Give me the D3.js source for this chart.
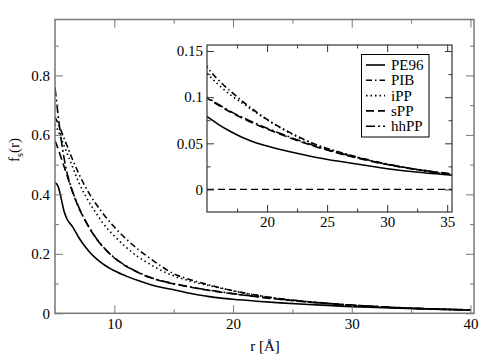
<!DOCTYPE html>
<html><head><meta charset="utf-8">
<script src="https://cdn.jsdelivr.net/npm/d3@7"></script>
</head>
<body style="margin:0">
<svg id="c" width="491" height="363" style="display:block;background:#fff"></svg>
<script>
// ---- data ----
const r = [5, 5.25, 5.5, 5.75, 6, 6.5, 7, 7.5, 8, 8.5, 9, 10, 11, 12, 13, 14, 15, 16, 17, 18, 19, 20, 22, 24, 26, 28, 30, 32, 34, 36, 38, 40];
const PE96 = [0.44, 0.428, 0.39, 0.345, 0.318, 0.29, 0.255, 0.226, 0.202, 0.183, 0.167, 0.143, 0.125, 0.11, 0.097, 0.087, 0.079, 0.07, 0.0625, 0.056, 0.051, 0.047, 0.0405, 0.035, 0.0305, 0.0265, 0.0225, 0.0195, 0.017, 0.0148, 0.0128, 0.011];
const PIB  = [0.66, 0.64, 0.615, 0.59, 0.565, 0.515, 0.47, 0.43, 0.395, 0.365, 0.338, 0.29, 0.25, 0.215, 0.185, 0.157, 0.133, 0.118, 0.106, 0.095, 0.085, 0.076, 0.061, 0.049, 0.0405, 0.0335, 0.0275, 0.0227, 0.0185, 0.0153, 0.0128, 0.0107];
const iPP  = [0.635, 0.615, 0.59, 0.565, 0.54, 0.49, 0.44, 0.40, 0.365, 0.335, 0.305, 0.26, 0.222, 0.19, 0.165, 0.143, 0.126, 0.113, 0.102, 0.093, 0.084, 0.0755, 0.0605, 0.0488, 0.0403, 0.0333, 0.0273, 0.0225, 0.0183, 0.0152, 0.0127, 0.0106];
const sPP  = [0.58, 0.555, 0.525, 0.495, 0.465, 0.405, 0.355, 0.315, 0.28, 0.25, 0.225, 0.186, 0.158, 0.137, 0.12, 0.108, 0.099, 0.091, 0.0835, 0.077, 0.071, 0.0655, 0.0555, 0.0465, 0.039, 0.0325, 0.027, 0.0225, 0.0188, 0.0158, 0.0135, 0.0115];
const hhPP = [0.76, 0.67, 0.59, 0.525, 0.475, 0.408, 0.357, 0.316, 0.281, 0.251, 0.226, 0.187, 0.159, 0.138, 0.121, 0.109, 0.0998, 0.0918, 0.0843, 0.0778, 0.0718, 0.0663, 0.0563, 0.0472, 0.0396, 0.033, 0.0274, 0.0228, 0.019, 0.016, 0.0137, 0.0117];
const seriesNames = ["PE96", "PIB", "iPP", "sPP", "hhPP"];
const xTicksMain = [10, 20, 30, 40];
const yTicksMain = [0, 0.2, 0.4, 0.6, 0.8];
const xTicksInset = [20, 25, 30, 35];
const yTicksInset = [0, 0.05, 0.1, 0.15];

const seriesData = {PE96, PIB, iPP, sPP, hhPP};
const dashes = {PE96: null, PIB: "6,3,1.5,3", iPP: "1.5,3", sPP: "8,4", hhPP: "9,3,2,3"};
const FONT = '"Liberation Serif"';

const svg = d3.select("#c");
const fmt = d => String(+d.toFixed(3));

function drawPanel(g, x, y, opt) {
  const [x0, x1] = x.range(), [y0, y1] = y.range();
  const id = opt.id;
  g.append("clipPath").attr("id", id).append("rect")
    .attr("x", x0).attr("y", y1).attr("width", x1 - x0).attr("height", y0 - y1);
  if (opt.fill) g.append("rect").attr("x", x0).attr("y", y1).attr("width", x1 - x0).attr("height", y0 - y1).attr("fill", "#fff");
  const plot = g.append("g").attr("clip-path", `url(#${id})`);
  if (opt.zeroLine) {
    plot.append("line").attr("x1", x0).attr("x2", x1).attr("y1", y(0)).attr("y2", y(0))
      .attr("stroke", "#000").attr("stroke-width", 1.3).attr("stroke-dasharray", "7,4");
  }
  const line = d3.line().x((d, i) => x(r[i])).y(d => y(d)).curve(d3.curveMonotoneX);
  seriesNames.forEach(n => {
    plot.append("path").datum(seriesData[n]).attr("d", line).attr("fill", "none")
      .attr("stroke", "#000").attr("stroke-width", 1.6)
      .attr("stroke-dasharray", dashes[n]);
  });
  const col = opt.axisColor;
  const mk = (axisFn, scale, ticks, size, labels) =>
    axisFn(scale).tickValues(ticks).tickSizeInner(size).tickSizeOuter(0)
      .tickPadding(opt.pad).tickFormat(labels ? fmt : "");
  const ax = (axisFn, scale, major, minor, tr, labels) => {
    const gm = g.append("g").attr("transform", tr).call(mk(axisFn, scale, minor, -opt.minor, false));
    const gM = g.append("g").attr("transform", tr).call(mk(axisFn, scale, major, -opt.major, labels));
    [gm, gM].forEach(s => {
      s.attr("font-family", null).attr("font-size", null);
      s.select(".domain").remove();
      s.selectAll("line").attr("stroke", col).attr("stroke-width", 1);
      s.selectAll("text").attr("fill", "#000").style("font-size", "15px").style("font-family", FONT);
    });
  };
  ax(d3.axisBottom, x, opt.xMajor, opt.xMinor, `translate(0,${y0})`, true);
  ax(d3.axisTop, x, opt.xMajor, opt.xMinor, `translate(0,${y1})`, false);
  ax(d3.axisLeft, y, opt.yMajor, opt.yMinor, `translate(${x0},0)`, true);
  ax(d3.axisRight, y, opt.yMajor, opt.yMinor, `translate(${x1},0)`, false);
  g.append("rect").attr("x", x0).attr("y", y1).attr("width", x1 - x0).attr("height", y0 - y1)
    .attr("fill", "none").attr("stroke", col).attr("stroke-width", opt.frameW);
}

// main panel
const xM = d3.scaleLinear().domain([5, 40.3]).range([55, 474]);
const yM = d3.scaleLinear().domain([0, 0.988]).range([313.3, 19.5]);
drawPanel(svg.append("g"), xM, yM, {
  id: "cm", axisColor: "#777", frameW: 1.5, major: 8, minor: 4, pad: 5,
  xMajor: xTicksMain, xMinor: [15, 25, 35],
  yMajor: yTicksMain, yMinor: [0.1, 0.3, 0.5, 0.7, 0.9]
});

// inset panel
const xI = d3.scaleLinear().domain([15, 35.4]).range([207, 452]);
const yI = d3.scaleLinear().domain([-0.0244, 0.1565]).range([212, 45]);
drawPanel(svg.append("g"), xI, yI, {
  id: "ci", axisColor: "#333", fill: true, zeroLine: true, frameW: 1.2, major: 7, minor: 3.5, pad: 4,
  xMajor: xTicksInset, xMinor: [17.5, 22.5, 27.5, 32.5],
  yMajor: yTicksInset, yMinor: [0.025, 0.075, 0.125]
});

// legend
const lg = svg.append("g");
lg.append("rect").attr("x", 361.5).attr("y", 54.5).attr("width", 67.5).attr("height", 82.5)
  .attr("fill", "#fff").attr("stroke", "#000").attr("stroke-width", 1);
seriesNames.forEach((n, i) => {
  const yy = 65 + i * 15.3;
  lg.append("line").attr("x1", 366).attr("x2", 385).attr("y1", yy).attr("y2", yy)
    .attr("stroke", "#000").attr("stroke-width", 1.6).attr("stroke-dasharray", dashes[n]);
  lg.append("text").attr("x", 391).attr("y", yy + 5)
    .style("font-size", "15px").style("font-family", FONT).text(n);
});

// axis labels
svg.append("text").attr("x", 265).attr("y", 351).attr("text-anchor", "middle")
  .style("font-size", "15px").style("font-family", FONT).text("r [Å]");
const yl = svg.append("text").attr("transform", "translate(19,150) rotate(-90)")
  .attr("text-anchor", "middle").style("font-size", "15px").style("font-family", FONT);
yl.append("tspan").text("f");
yl.append("tspan").style("font-size", "10px").attr("dy", 4).text("s");
yl.append("tspan").attr("dy", -4).text("(r)");
</script>
</body></html>
